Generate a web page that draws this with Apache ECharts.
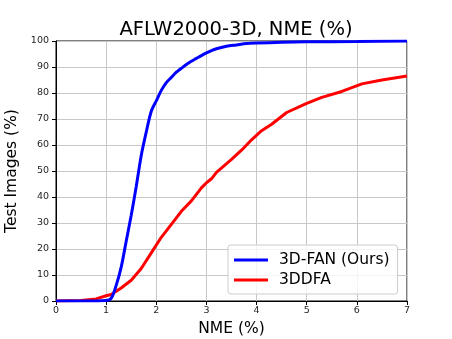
<!DOCTYPE html>
<html><head><meta charset="utf-8">
<script src="https://cdn.jsdelivr.net/npm/echarts@6/dist/echarts.min.js"></script>
<style>html,body{margin:0;padding:0;background:#fff}#c{width:452px;height:339px}</style>
</head><body><div id="c"></div>
<script>
var fanX = [0, 0.5, 1.0, 1.1, 1.2, 1.3, 1.4, 1.5, 1.6, 1.7, 1.8, 1.9, 2.0, 2.1, 2.2, 2.3, 2.4, 2.5, 2.6, 2.7, 2.8, 2.9, 3.0, 3.1, 3.2, 3.4, 3.6, 3.8, 4.0, 4.5, 5.0, 6.0, 7.0];
var fanY = [0, 0, 0.2, 1, 6, 13, 23, 33, 44, 56, 65, 73, 77, 81, 84, 86, 88, 89.5, 91, 92.2, 93.3, 94.4, 95.4, 96.3, 97, 98, 98.5, 99, 99.2, 99.5, 99.7, 99.8, 100];
var ddfaX = [0, 0.5, 0.8, 1.0, 1.1, 1.3, 1.5, 1.7, 1.9, 2.1, 2.3, 2.5, 2.7, 2.9, 3.0, 3.1, 3.2, 3.5, 3.7, 3.9, 4.1, 4.3, 4.6, 5.0, 5.3, 5.7, 6.1, 6.5, 7.0];
var ddfaY = [0, 0.2, 0.8, 2, 2.5, 5, 8, 12.5, 18.5, 24.5, 29.5, 34.5, 38.5, 43.5, 45.5, 47, 49.5, 54.5, 58, 62, 65.5, 68, 72.5, 76, 78.3, 80.6, 83.5, 85, 86.5];
var xTicks = [0, 1, 2, 3, 4, 5, 6, 7];
var yTicks = [0, 10, 20, 30, 40, 50, 60, 70, 80, 90, 100];
var seriesNames = ['3D-FAN (Ours)', '3DDFA'];

function pairs(xs, ys) { return xs.map(function (x, i) { return [x, ys[i]]; }); }
var font = 'DejaVu Sans';
var chart = echarts.init(document.getElementById('c'), null, {renderer: 'canvas'});
chart.setOption({
  animation: false,
  backgroundColor: '#fff',
  title: {text: 'AFLW2000-3D, NME (%)', left: 231, textAlign: 'center', top: 15,
    textStyle: {fontFamily: font, fontSize: 19.5, fontWeight: 'normal', color: '#000'}},
  grid: {left: 56, right: 45, top: 41, bottom: 38, show: true, borderColor: '#000', borderWidth: 1, backgroundColor: 'transparent', containLabel: false, outerBoundsMode: 'none'},
  legend: {
    data: seriesNames, orient: 'vertical', left: 228, top: 245,
    icon: 'rect', itemWidth: 34, itemHeight: 3, itemGap: 4,
    padding: [7, 8, 6, 6], backgroundColor: 'rgba(255,255,255,0.8)', borderColor: '#cccccc', borderWidth: 1, borderRadius: 3,
    textStyle: {fontFamily: font, fontSize: 15.5, color: '#000', padding: [0, 0, 0, 6]}
  },
  xAxis: {
    type: 'value', min: 0, max: 7, interval: 1,
    name: 'NME (%)', nameLocation: 'middle', nameGap: 18,
    nameTextStyle: {fontFamily: font, fontSize: 15.5, color: '#000', verticalAlign: 'top'},
    axisLine: {show: true, lineStyle: {color: '#000', width: 1}},
    axisTick: {show: true, length: 4, lineStyle: {color: '#000'}},
    axisLabel: {fontFamily: font, fontSize: 9.5, color: '#262626', margin: 5,
      formatter: function (v) { return xTicks.indexOf(v) >= 0 ? String(v) : ''; }},
    splitLine: {show: true, lineStyle: {color: '#c8c8c8', width: 1}}
  },
  yAxis: {
    type: 'value', min: 0, max: 100, interval: 10,
    name: 'Test Images (%)', nameLocation: 'middle', nameGap: 25,
    nameTextStyle: {fontFamily: font, fontSize: 15.5, color: '#000'},
    axisLine: {show: true, lineStyle: {color: '#000', width: 1}},
    axisTick: {show: true, length: 4, lineStyle: {color: '#000'}},
    axisLabel: {fontFamily: font, fontSize: 9.5, color: '#262626', margin: 7,
      formatter: function (v) { return yTicks.indexOf(v) >= 0 ? String(v) : ''; }},
    splitLine: {show: true, lineStyle: {color: '#c8c8c8', width: 1}}
  },
  series: [
    {name: seriesNames[0], type: 'line', data: pairs(fanX, fanY), symbol: 'none', smooth: 0.3,
      lineStyle: {color: '#0000ff', width: 3}, itemStyle: {color: '#0000ff'}, z: 3},
    {name: seriesNames[1], type: 'line', data: pairs(ddfaX, ddfaY), symbol: 'none',
      lineStyle: {color: '#ff0000', width: 3}, itemStyle: {color: '#ff0000'}, z: 2}
  ]
});
</script></body></html>
